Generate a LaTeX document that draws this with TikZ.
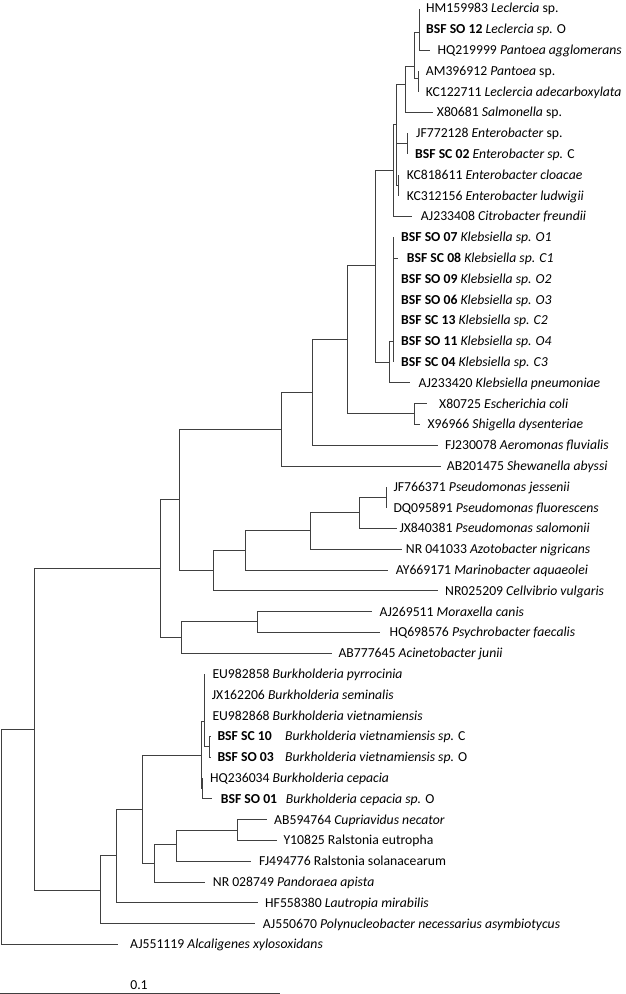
\documentclass[tikz,border=0pt]{standalone}
\usepackage{fontspec}
\setmainfont{Carlito}
\usetikzlibrary{positioning}

\begin{document}
\begin{tikzpicture}[
    x=1pt, y=-1pt,
    leaf/.style={anchor=base west, inner sep=0pt, font=\fontsize{13.7}{16}\selectfont},
    branch/.style={line width=0.9pt, draw=black!75}
  ]
    \useasboundingbox (0,0) rectangle (625,994);

    \foreach \n/\x/\y in {R/1/836.9, n1/34.3/729.3, n2/160.7/568.3, n3/100/890,
        n4/179.7/499, n5/181.7/637.3, n6/281.7/429, n7/213.3/570,
        n8/312.3/392.3, n9/347.7/339, nE/375.7/265.7, nEc/414.3/413.3,
        nF/393.3/170, nK/389.3/362, nG/396.5/124, nH/405/84.3,
        nJ/407.3/143.3, nKC/398.3/185.3, nI/414.3/66, nA/419.3/32.7,
        nL/418.3/78.3, nK2/393.3/341.7, n10/245.7/550, n11/310.7/530.7,
        n12/359/512.3, n13/386.7/497, n14/257.3/621, n15/116/855,
        n16/142.7/809, n17/154/863.3, n18/176/844.3, n19/237.5/830,
        nB/201/755.7, nB1/204/721.7, nB2/202.5/788, nB3/209.5/746} {
      \coordinate (\n) at (\x,\y);
    }

    \foreach \i/\tx/\lx/\txt in {
        1/419.3/426/{HM159983 \textit{Leclercia} sp.},
        2/419.3/426/{\textbf{BSF SO 12} \textit{Leclercia sp.} O},
        3/430/437.3/{HQ219999 \textit{Pantoea agglomerans}},
        4/418.3/425.7/{AM396912 \textit{Pantoea} sp.},
        5/418.3/425.7/{KC122711 \textit{Leclercia adecarboxylata}},
        6/433.3/436.7/{X80681 \textit{Salmonella} sp.},
        7/407.3/416/{JF772128 \textit{Enterobacter} sp.},
        8/407.3/415/{\textbf{BSF SC 02} \textit{Enterobacter sp.} C},
        9/398.3/406.7/{KC818611 \textit{Enterobacter cloacae}},
        10/398.3/406.7/{KC312156 \textit{Enterobacter ludwigii}},
        11/411.7/420.7/{AJ233408 \textit{Citrobacter freundii}},
        12/393.3/401/{\textbf{BSF SO 07} \textit{Klebsiella sp. O1}},
        13/398.3/406.7/{\textbf{BSF SC 08} \textit{Klebsiella sp. C1}},
        14/393.3/401/{\textbf{BSF SO 09} \textit{Klebsiella sp. O2}},
        15/393.3/401/{\textbf{BSF SO 06} \textit{Klebsiella sp. O3}},
        16/393.3/401/{\textbf{BSF SC 13} \textit{Klebsiella sp. C2}},
        17/393.3/401/{\textbf{BSF SO 11} \textit{Klebsiella sp. O4}},
        18/393.3/401/{\textbf{BSF SC 04} \textit{Klebsiella sp. C3}},
        19/410/418.3/{AJ233420 \textit{Klebsiella pneumoniae}},
        20/426.7/439/{X80725 \textit{Escherichia coli}},
        21/420/427.3/{X96966 \textit{Shigella dysenteriae}},
        22/438.3/445/{FJ230078 \textit{Aeromonas fluvialis}},
        23/440.7/446.7/{AB201475 \textit{Shewanella abyssi}},
        24/386.7/393.3/{JF766371 \textit{Pseudomonas jessenii}},
        25/386.7/393.3/{DQ095891 \textit{Pseudomonas fluorescens}},
        26/396.7/399.3/{JX840381 \textit{Pseudomonas salomonii}},
        27/401.7/405.7/{NR 041033 \textit{Azotobacter nigricans}},
        28/388/395.7/{AY669171 \textit{Marinobacter aquaeolei}},
        29/438.3/445/{NR025209 \textit{Cellvibrio vulgaris}},
        30/372.3/379.3/{AJ269511 \textit{Moraxella canis}},
        31/380/389.3/{HQ698576 \textit{Psychrobacter faecalis}},
        32/331.7/338.3/{AB777645 \textit{Acinetobacter junii}},
        33/204/212.3/{EU982858 \textit{Burkholderia pyrrocinia}},
        34/204/211.7/{JX162206 \textit{Burkholderia seminalis}},
        35/204/212.3/{EU982868 \textit{Burkholderia vietnamiensis}},
        36/210.5/217.3/{\textbf{BSF SC 10}},
        37/210.5/217.3/{\textbf{BSF SO 03}},
        38/202.5/210/{HQ236034 \textit{Burkholderia cepacia}},
        39/212.3/220.7/{\textbf{BSF SO 01}},
        40/266.7/274/{AB594764 \textit{Cupriavidus necator}},
        41/276.7/283.3/{Y10825 Ralstonia eutropha},
        42/251/259/{FJ494776 Ralstonia solanacearum},
        43/205/212.7/{NR 028749 \textit{Pandoraea apista}},
        44/258.3/265/{HF558380 \textit{Lautropia mirabilis}},
        45/255/262.7/{AJ550670 \textit{Polynucleobacter necessarius asymbiotycus}},
        46/118.3/130/{AJ551119 \textit{Alcaligenes xylosoxidans}}} {
      \coordinate (t\i) at (\tx,{8.5+20.8*(\i-1)});
      \node[leaf] (l\i) at (\lx,{8.5+20.8*(\i-1)+4.4}) {\txt};
    }

    \node[leaf] (sp36) at (285,{8.5+20.8*35+4.4}) {\textit{Burkholderia vietnamiensis sp.} C};
    \node[leaf] (sp37) at (285,{8.5+20.8*36+4.4}) {\textit{Burkholderia vietnamiensis sp.} O};
    \node[leaf] (sp39) at (285.7,{8.5+20.8*38+4.4}) {\textit{Burkholderia cepacia sp.} O};

    \foreach \p/\c in {R/n1, R/t46, n1/n2, n1/n3, n2/n4, n2/n5, n4/n6, n4/n7,
        n6/n8, n6/t23, n8/n9, n8/t22, n9/nE, n9/nEc, nE/nF, nE/nK,
        nF/nG, nF/t11, nG/nH, nG/nJ, nG/nKC, nH/nI, nH/t6, nI/nA, nI/nL,
        nA/t1, nA/t2, nA/t3, nL/t4, nL/t5, nJ/t7, nJ/t8, nKC/t9, nKC/t10,
        nK/nK2, nK/t19, nK2/t12, nK2/t13, nK2/t14, nK2/t15, nK2/t16, nK2/t17, nK2/t18,
        nEc/t20, nEc/t21, n7/n10, n7/t29, n10/n11, n10/t28, n11/n12, n11/t27,
        n12/n13, n12/t26, n13/t24, n13/t25, n5/n14, n5/t32, n14/t30, n14/t31,
        n3/n15, n3/t45, n15/n16, n15/t44, n16/nB, n16/n17, n17/n18, n17/t43,
        n18/n19, n18/t42, n19/t40, n19/t41, nB/nB1, nB/nB2,
        nB1/t33, nB1/t34, nB1/t35, nB1/nB3, nB3/t36, nB3/t37, nB2/t38, nB2/t39} {
      \draw[branch] (\p) |- (\c);
    }

    \coordinate (s0) at (0,993);
    \coordinate (s1) at (280,993);
    \draw[branch] (s0) -- (s1);
    \node[leaf, anchor=base] (scale) at (139,989.5) {0.1};
  \end{tikzpicture}
\end{document}
